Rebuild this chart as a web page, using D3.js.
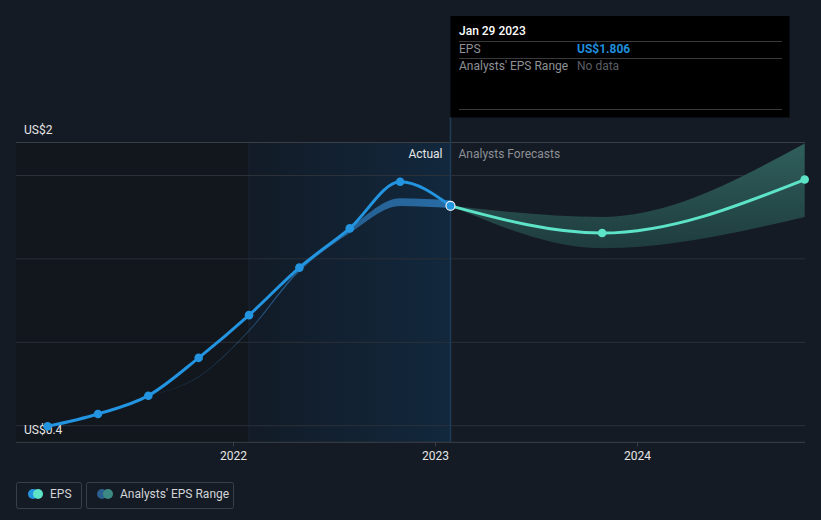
<!DOCTYPE html>
<html>
<head>
<meta charset="utf-8">
<script src="https://cdn.jsdelivr.net/npm/d3@7"></script>
<style>
  html, body { margin: 0; padding: 0; background: #151b24; }
  svg { display: block; font-family: Roboto, "Noto Sans", sans-serif; }
</style>
</head>
<body>
<svg id="chart" width="821" height="520"></svg>
<script>
// ---------------- data ----------------
const epsDates = ["2021-01-31","2021-05-02","2021-08-01","2021-10-31","2022-01-30","2022-05-01","2022-07-31","2022-10-30","2023-01-29"];
const epsValues = [0.396, 0.475, 0.592, 0.834, 1.107, 1.411, 1.662, 1.960, 1.806];

const pastRangeDates = ["2021-08-01","2021-10-31","2022-01-30","2022-05-01","2022-07-31","2022-10-30","2023-01-29"];
const pastRangeLow  = [0.592, 0.712, 1.004, 1.386, 1.632, 1.805, 1.792];
const pastRangeHigh = [0.592, 0.716, 1.012, 1.404, 1.666, 1.855, 1.842];

const fcDates  = ["2023-01-29","2023-10-30","2024-10-30"];
const fcValues = [1.806, 1.632, 1.974];
const fcLow    = [1.806, 1.535, 1.735];
const fcHigh   = [1.806, 1.735, 2.205];

const yTickValues = [0.4, 0.9333, 1.4667, 2.0];
const yLabels = ["US$0.4", "US$2"];
const xTickYears = [2022, 2023, 2024];

const tooltipDate = "Jan 29 2023";
const tooltipEPS = "US$1.806";
const tooltipRange = "No data";

// ---------------- layout ----------------
const svg = d3.select("#chart");
const W = 821, H = 520;
const left = 16, right = 805, plotTop = 142.5, axisY = 442.3;
const parse = d3.timeParse("%Y-%m-%d");

const x = d3.scaleTime()
  .domain([new Date(2022,0,1), new Date(2023,0,1)])
  .range([233, 435]);
const y = d3.scaleLinear().domain([0.4, 2.0]).range([425.7, 175.5]);

svg.append("rect").attr("width", W).attr("height", H).attr("fill", "#151b24");

const defs = svg.append("defs");
const bandGrad = defs.append("linearGradient").attr("id","bandGrad").attr("x1","0").attr("x2","1").attr("y1","0").attr("y2","0");
bandGrad.append("stop").attr("offset","0").attr("stop-color","#121b27");
bandGrad.append("stop").attr("offset","1").attr("stop-color","#12283d");
const fcGrad = defs.append("linearGradient").attr("id","fcGrad").attr("x1","0").attr("x2","0").attr("y1","0").attr("y2","1");
fcGrad.append("stop").attr("offset","0").attr("stop-color","#2f5f5c");
fcGrad.append("stop").attr("offset","1").attr("stop-color","#1f3c3e");
const pastGrad = defs.append("linearGradient").attr("id","pastGrad").attr("x1","0").attr("x2","1").attr("y1","0").attr("y2","0");
pastGrad.append("stop").attr("offset","0").attr("stop-color","#2a6ea8").attr("stop-opacity",0.2);
pastGrad.append("stop").attr("offset","0.4").attr("stop-color","#2a6ea8").attr("stop-opacity",0.7);
pastGrad.append("stop").attr("offset","1").attr("stop-color","#2b73b0").attr("stop-opacity",0.9);

const bandStart = x(parse("2022-01-30"));
const nowX = x(parse("2023-01-29"));

// darker past region
svg.append("rect").attr("x", left).attr("y", plotTop).attr("width", bandStart - left).attr("height", axisY - plotTop).attr("fill", "#12161d");
// last-year band
svg.append("rect").attr("x", bandStart).attr("y", plotTop).attr("width", nowX - bandStart).attr("height", axisY - plotTop).attr("fill", "url(#bandGrad)");
svg.append("line").attr("x1", bandStart).attr("x2", bandStart).attr("y1", plotTop).attr("y2", axisY).attr("stroke", "#1a2533").attr("stroke-width", 1);

// gridlines
svg.append("line").attr("x1", left).attr("x2", right).attr("y1", plotTop).attr("y2", plotTop).attr("stroke", "#3a3f47").attr("stroke-width", 1);
svg.selectAll(".grid").data(yTickValues).enter().append("line")
  .attr("x1", left).attr("x2", right)
  .attr("y1", d => y(d)).attr("y2", d => y(d))
  .attr("stroke", "#2b3039").attr("stroke-width", 1);

// x axis
const xAxis = d3.axisBottom(x)
  .tickValues(xTickYears.map(yr => new Date(yr,0,1)))
  .tickFormat(d3.timeFormat("%Y"))
  .tickSizeInner(4).tickSizeOuter(0).tickPadding(5);
const gx = svg.append("g").attr("transform", `translate(0,${axisY})`).call(xAxis);
gx.select(".domain").attr("stroke", "#3c4048").attr("d", `M${left},0H${right}`);
gx.selectAll(".tick line").attr("stroke", "#3c4048");
gx.selectAll(".tick text").attr("fill", "#e6e6e6").attr("font-size", 12).attr("font-family", "Roboto, sans-serif");

// y labels
svg.append("text").attr("x", 24).attr("y", 134).attr("fill", "#e6e6e6").attr("font-size", 12).text(yLabels[1]);
svg.append("text").attr("x", 24).attr("y", 434).attr("fill", "#e6e6e6").attr("font-size", 12).text(yLabels[0]);

// hover line
svg.append("line").attr("x1", nowX).attr("x2", nowX).attr("y1", 117).attr("y2", axisY).attr("stroke", "#1e3b58").attr("stroke-width", 1.5);

// section labels
svg.append("text").attr("x", nowX - 8).attr("y", 158).attr("text-anchor", "end").attr("fill", "#e6e6e6").attr("font-size", 12).text("Actual");
svg.append("text").attr("x", nowX + 8).attr("y", 158).attr("fill", "#8c9096").attr("font-size", 12).text("Analysts Forecasts");

// forecast range area
const fcData = fcDates.map((d,i) => ({d: parse(d), v: fcValues[i], lo: fcLow[i], hi: fcHigh[i]}));
const area = d3.area().x(d => x(d.d)).y0(d => y(d.lo)).y1(d => y(d.hi)).curve(d3.curveMonotoneX);
svg.append("path").datum(fcData).attr("d", area).attr("fill", "url(#fcGrad)");

// past analysts range band
const pastData = pastRangeDates.map((d,i) => ({d: parse(d), lo: pastRangeLow[i], hi: pastRangeHigh[i]}));
svg.append("path").datum(pastData).attr("d", area).attr("fill", "url(#pastGrad)");

// EPS line
const epsData = epsDates.map((d,i) => ({d: parse(d), v: epsValues[i]}));
const line = d3.line().x(d => x(d.d)).y(d => y(d.v)).curve(d3.curveMonotoneX);
svg.append("path").datum(epsData).attr("d", line).attr("fill", "none").attr("stroke", "#2394df").attr("stroke-width", 3);

// forecast line
svg.append("path").datum(fcData).attr("d", line).attr("fill", "none").attr("stroke", "#5de3c8").attr("stroke-width", 3);

// points
svg.selectAll(".ep").data(epsData.slice(0, -1)).enter().append("circle")
  .attr("cx", d => x(d.d)).attr("cy", d => y(d.v)).attr("r", 4.3).attr("fill", "#2394df");
svg.selectAll(".fp").data(fcData.slice(1)).enter().append("circle")
  .attr("cx", d => x(d.d)).attr("cy", d => y(d.v)).attr("r", 4.3).attr("fill", "#5de3c8");
const last = epsData[epsData.length - 1];
svg.append("circle").attr("cx", x(last.d)).attr("cy", y(last.v)).attr("r", 4.5)
  .attr("fill", "#2394df").attr("stroke", "#e8f2fa").attr("stroke-width", 1.2);

// tooltip
const tt = svg.append("g");
tt.append("rect").attr("x", nowX).attr("y", 16).attr("width", 339).attr("height", 101.5).attr("fill", "#000000");
tt.append("text").attr("x", 459).attr("y", 35).attr("fill", "#ffffff").attr("font-size", 12).attr("font-weight", 500).text(tooltipDate);
tt.append("line").attr("x1", 459).attr("x2", 782).attr("y1", 41.5).attr("y2", 41.5).attr("stroke", "#3a3a3a");
tt.append("text").attr("x", 459).attr("y", 53).attr("fill", "#8e9195").attr("font-size", 12).text("EPS");
tt.append("text").attr("x", 577).attr("y", 53).attr("fill", "#1f8ddb").attr("font-size", 12).attr("font-weight", 700).text(tooltipEPS);
tt.append("line").attr("x1", 459).attr("x2", 782).attr("y1", 58.5).attr("y2", 58.5).attr("stroke", "#3a3a3a");
tt.append("text").attr("x", 459).attr("y", 70).attr("fill", "#8e9195").attr("font-size", 12).text("Analysts' EPS Range");
tt.append("text").attr("x", 577).attr("y", 70).attr("fill", "#5b5e62").attr("font-size", 12).text(tooltipRange);
tt.append("line").attr("x1", 459).attr("x2", 782).attr("y1", 109.5).attr("y2", 109.5).attr("stroke", "#3a3a3a");

// legend
const lg = svg.append("g");
lg.append("rect").attr("x", 16.5).attr("y", 482.5).attr("width", 65).attr("height", 26).attr("rx", 2).attr("fill", "none").attr("stroke", "#3a3f47");
lg.append("circle").attr("cx", 33).attr("cy", 494).attr("r", 5).attr("fill", "#2394df");
lg.append("circle").attr("cx", 38).attr("cy", 494).attr("r", 5).attr("fill", "#5de3c8");
lg.append("text").attr("x", 50).attr("y", 498).attr("fill", "#d2d4d7").attr("font-size", 12).text("EPS");
lg.append("rect").attr("x", 86.5).attr("y", 482.5).attr("width", 147).attr("height", 26).attr("rx", 2).attr("fill", "none").attr("stroke", "#3a3f47");
lg.append("circle").attr("cx", 102).attr("cy", 494).attr("r", 5).attr("fill", "#2a5f8f");
lg.append("circle").attr("cx", 108).attr("cy", 494).attr("r", 5).attr("fill", "#3d8a85");
lg.append("text").attr("x", 120).attr("y", 498).attr("fill", "#d2d4d7").attr("font-size", 12).text("Analysts' EPS Range");
</script>
</body>
</html>
